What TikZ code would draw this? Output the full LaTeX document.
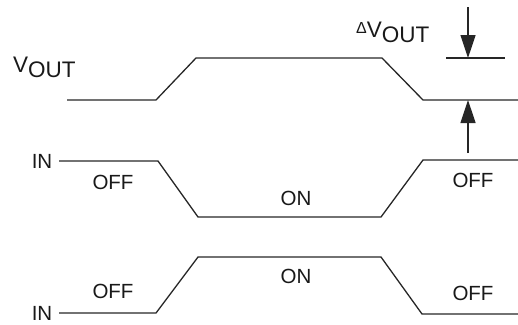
\documentclass[tikz,border=0pt]{standalone}
\usepackage{fontspec}
\setmainfont{Liberation Sans}
\usetikzlibrary{arrows.meta}

\begin{document}
\begin{tikzpicture}[x=1pt,y=-1pt,
  wave/.style={line width=1.3pt,black!85,line join=miter},
  lbl/.style={inner sep=0pt,font=\fontsize{20.5}{24}\selectfont,black!90},
  big/.style={inner sep=0pt,font=\fontsize{22.5}{26}\selectfont,black!90,anchor=base west},
  dim/.style={line width=1.2pt,black!85,-{Triangle[length=23pt,width=15pt]}}]
\useasboundingbox (0,0) rectangle (518,324);

% Output waveform
\draw[wave] (67,100) -- (156,100) -- (196,58) -- (382,58) -- (423,100) -- (518,100);
\node[big] (vout) at (13,72) {V\raisebox{-5.5pt}{OUT}};

% Input waveform, falling edge
\draw[wave] (59,161) -- (158,161) -- (198,217) -- (381,217) -- (423,160) -- (518,160);
\node[lbl] (inA) at (42,161) {IN};
\node[lbl] (offA) at (113,182) {OFF};
\node[lbl] (onA) at (296,198) {ON};
\node[lbl] (offB) at (473,180) {OFF};

% Input waveform, rising edge
\draw[wave] (59,313) -- (156,313) -- (198,257) -- (381,257) -- (422,314) -- (518,314);
\node[lbl] (inB) at (42,313) {IN};
\node[lbl] (offC) at (113,291) {OFF};
\node[lbl] (onB) at (296,276) {ON};
\node[lbl] (offD) at (473,293) {OFF};

% Delta Vout
\coordinate (topS) at (468,7);
\coordinate (topE) at (468,58);
\coordinate (botS) at (468,153);
\coordinate (botE) at (468,100);
\draw[wave] (446,58) -- (505,58);
\draw[dim] (topS) -- (topE);
\draw[dim] (botS) -- (botE);
\node[big] (dvout) at (356,37)
  {{\fontsize{16}{16}\selectfont\raisebox{3.5pt}{Δ}}V\raisebox{-5.5pt}{OUT}};
\end{tikzpicture}
\end{document}
